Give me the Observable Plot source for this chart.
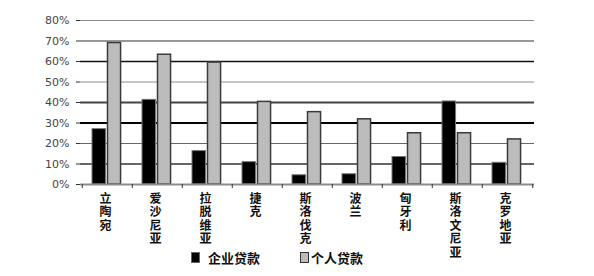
<!DOCTYPE html>
<html>
<head>
<meta charset="utf-8">
<script src="https://cdn.jsdelivr.net/npm/d3@7"></script>
<script src="https://cdn.jsdelivr.net/npm/@observablehq/plot@0.6"></script>
<style>
  html, body { margin: 0; padding: 0; background: #fff; }
  #wrap { width: 594px; position: relative; }
  .legend { position: absolute; left: 0; top: 248px; width: 594px; height: 20px; font-family: "Noto Sans CJK SC", sans-serif; font-size: 13px; font-weight: 600; color: #111; }
  .legend .item { position: absolute; top: 0; display: flex; align-items: center; height: 18px; }
  .legend .sw { width: 7px; height: 9px; display: inline-block; }
</style>
</head>
<body>
<div id="wrap"></div>
<script>
const countries = ["立陶宛", "爱沙尼亚", "拉脱维亚", "捷克", "斯洛伐克", "波兰", "匈牙利", "斯洛文尼亚", "克罗地亚"];
const corporate = [27, 41.3, 16.3, 10.9, 4.5, 5.0, 13.4, 40.5, 10.6];
const personal = [69, 63.3, 59.5, 40.3, 35.3, 31.8, 25, 25, 22];
const seriesNames = ["企业贷款", "个人贷款"];
const yTicks = [0, 10, 20, 30, 40, 50, 60, 70, 80];

const rows = countries.map((c, i) => ({country: c, corporate: corporate[i], personal: personal[i]}));

const W = 594, H = 276, ML = 80, MR = 60, MT = 20, MB = 92;
const bw = (W - ML - MR) / countries.length;

const gridStyle = {
  80: ["#8a8a8a", 1], 70: ["#333", 1.2], 60: ["#111", 1.5], 50: ["#8a8a8a", 1],
  40: ["#444", 2], 30: ["#000", 2], 20: ["#666", 1.2], 10: ["#333", 1.5]
};
const grid = yTicks.filter(t => t > 0);

const chart = Plot.plot({
  width: W, height: H,
  marginLeft: ML, marginRight: MR, marginTop: MT, marginBottom: MB,
  style: {background: "#fff"},
  x: {domain: countries, padding: 0, axis: null, label: null},
  y: {domain: [0, 80], axis: null, label: null},
  marks: [
    ...grid.map(t => Plot.ruleY([t], {stroke: gridStyle[t][0], strokeWidth: gridStyle[t][1]})),
    Plot.barY(rows, {x: "country", y: "corporate", fill: "#000", stroke: "#777", strokeWidth: 1, insetLeft: 10, insetRight: bw - 24}),
    Plot.barY(rows, {x: "country", y: "personal", fill: "#bcbcbc", stroke: "#3a3a3a", strokeWidth: 1.5, insetLeft: 25.5, insetRight: bw - 39}),
    Plot.ruleY([0], {stroke: "#8c8c8c", strokeWidth: 2}),
    Plot.ruleX([0], {x: () => 0, frameAnchor: "left", stroke: "#8c8c8c", strokeWidth: 1.5}),
    Plot.axisY({ticks: yTicks, tickFormat: d => d + "%", tickSize: 4, tickPadding: 7, stroke: "#333", label: null,
      fontFamily: "DejaVu Sans", fontSize: 11, fill: "#444"}),
    Plot.ruleX(countries, {x: d => d, dx: -bw / 2, y1: 0, y2: 0, insetBottom: -4, stroke: "#333"}),
    Plot.ruleX(countries.slice(-1), {x: d => d, dx: bw / 2, y1: 0, y2: 0, insetBottom: -4, stroke: "#333"}),
    Plot.axisX({tickSize: 0, tickPadding: 9, dx: -2, label: null, tickFormat: d => [...d].join("\n"), lineHeight: 1.12,
      fontFamily: "Noto Sans CJK SC", fontSize: 12, fontWeight: 700, fill: "#111"})
  ]
});

const wrap = document.getElementById("wrap");
wrap.appendChild(chart);
const legend = document.createElement("div");
legend.className = "legend";
legend.innerHTML =
  `<div class="item" style="left:191px"><span class="sw" style="background:#000;border:1px solid #666"></span><span style="margin-left:8px">${seriesNames[0]}</span></div>` +
  `<div class="item" style="left:300px"><span class="sw" style="background:#bbb;border:1px solid #333"></span><span style="margin-left:2px">${seriesNames[1]}</span></div>`;
wrap.appendChild(legend);
</script>
</body>
</html>
